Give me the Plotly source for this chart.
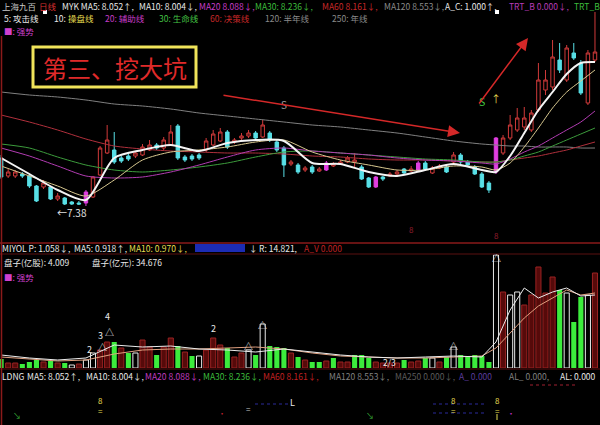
import plotly.graph_objects as go

W, H = 600, 425

# ---------------- data ----------------
days = list(range(85))
open_ = [8.34, 7.98, 7.98, 8.02, 7.98, 7.78, 7.76, 7.76, 7.52, 7.54,
         7.46, 7.44, 7.44, 7.56, 8.00, 8.44, 8.50, 8.34, 8.38, 8.38,
         8.40, 8.50, 8.60, 8.54, 8.60, 8.98, 8.36, 8.38, 8.40, 8.50,
         8.60, 8.68, 8.86, 8.66, 8.74, 8.78, 8.84, 8.76, 8.84, 8.66,
         8.54, 8.22, 8.20, 8.10, 8.16, 8.08, 8.10, 8.18, 8.22, 8.26,
         8.26, 8.16, 7.94, 7.76, 7.96, 7.98, 8.02, 8.12, 8.08, 8.10,
         8.24, 8.04, 8.14, 8.16, 8.26, 8.40, 8.26, 8.16, 8.02, 7.84,
         8.06, 8.44, 8.74, 8.90, 8.96, 8.90, 9.30, 9.70, 9.76, 10.30,
         9.90, 10.44, 10.24, 9.44, 10.30]
high = [8.40, 8.12, 8.10, 8.06, 8.02, 7.80, 7.90, 7.78, 7.64, 7.56,
        7.48, 7.48, 7.70, 7.98, 8.58, 9.00, 8.86, 8.38, 8.42, 8.48,
        8.62, 8.70, 8.64, 8.76, 9.00, 9.02, 8.40, 8.42, 8.44, 8.74,
        8.90, 8.94, 8.90, 8.74, 8.84, 8.90, 8.88, 9.10, 8.88, 8.70,
        8.58, 8.30, 8.24, 8.18, 8.20, 8.16, 8.28, 8.26, 8.30, 8.38,
        8.44, 8.20, 7.96, 7.98, 7.98, 8.06, 8.10, 8.14, 8.18, 8.28,
        8.28, 8.18, 8.22, 8.20, 8.46, 8.44, 8.30, 8.20, 8.06, 7.88,
        8.76, 8.80, 9.20, 9.34, 9.36, 9.30, 10.24, 10.10, 10.70, 10.64,
        10.60, 10.64, 10.30, 10.50, 11.26]
low = [7.92, 7.94, 7.94, 7.94, 7.74, 7.46, 7.72, 7.50, 7.48, 7.40,
       7.40, 7.40, 7.38, 7.54, 7.98, 8.42, 8.22, 8.24, 8.28, 8.34,
       8.38, 8.48, 8.50, 8.50, 8.58, 8.30, 8.26, 8.28, 8.30, 8.46,
       8.58, 8.66, 8.52, 8.62, 8.70, 8.74, 8.70, 8.74, 8.66, 8.46,
       7.96, 8.18, 8.02, 8.06, 8.02, 8.06, 8.08, 8.16, 8.20, 8.24,
       8.16, 7.90, 7.74, 7.74, 7.88, 7.96, 8.00, 8.00, 8.06, 8.08,
       8.10, 8.02, 8.12, 8.04, 8.22, 8.22, 8.18, 8.00, 7.74, 7.64,
       8.02, 8.40, 8.70, 8.86, 8.90, 8.86, 9.26, 9.60, 9.70, 10.04,
       9.86, 10.30, 9.60, 9.40, 10.26]
close = [7.96, 8.06, 8.06, 7.98, 7.78, 7.48, 7.84, 7.52, 7.58, 7.42,
         7.42, 7.42, 7.66, 7.96, 8.54, 8.70, 8.26, 8.28, 8.32, 8.44,
         8.56, 8.60, 8.54, 8.70, 8.86, 8.34, 8.30, 8.32, 8.34, 8.68,
         8.82, 8.86, 8.56, 8.70, 8.78, 8.84, 8.74, 9.00, 8.70, 8.50,
         8.20, 8.26, 8.06, 8.14, 8.06, 8.12, 8.24, 8.22, 8.26, 8.34,
         8.30, 7.92, 7.76, 7.96, 7.92, 8.02, 8.06, 8.04, 8.12, 8.24,
         8.12, 8.14, 8.18, 8.06, 8.40, 8.26, 8.20, 8.02, 7.76, 7.70,
         8.74, 8.74, 9.00, 9.14, 9.14, 9.24, 9.90, 9.90, 10.36, 10.10,
         10.54, 10.34, 9.64, 10.44, 10.46]
signal_days = [12, 46, 53, 59, 70]
low_label_day = 12

ma_days = [0, 4, 8, 12, 16, 20, 24, 28, 32, 36, 40, 44, 48, 52, 56, 60,
           64, 68, 70, 72, 74, 76, 78, 80, 82, 84]
ma5 = [8.34, 8.02, 7.70, 7.50, 8.34, 8.50, 8.60, 8.48, 8.64, 8.70, 8.68, 8.24, 8.22,
       8.06, 7.98, 8.10, 8.22, 8.10, 8.06, 8.38, 8.84, 9.30, 9.66, 10.02, 10.24, 10.26]
ma10 = [8.18, 7.98, 7.78, 7.58, 7.90, 8.30, 8.46, 8.50, 8.56, 8.66, 8.70, 8.46, 8.30,
        8.20, 8.10, 8.10, 8.18, 8.16, 8.10, 8.24, 8.56, 8.94, 9.34, 9.66, 9.88, 10.10]
ma20 = [8.54, 8.38, 8.18, 7.98, 7.94, 7.96, 8.06, 8.20, 8.36, 8.50, 8.54, 8.48, 8.44,
        8.40, 8.34, 8.30, 8.28, 8.24, 8.22, 8.32, 8.46, 8.58, 8.74, 8.90, 9.06, 9.28]
ma30 = [8.62, 8.54, 8.36, 8.20, 8.10, 8.06, 8.10, 8.16, 8.24, 8.36, 8.46, 8.48, 8.44,
        8.40, 8.36, 8.32, 8.30, 8.26, 8.26, 8.30, 8.38, 8.46, 8.58, 8.70, 8.82, 8.94]
ma60 = [9.20, 9.06, 8.90, 8.72, 8.58, 8.52, 8.48, 8.46, 8.44, 8.44, 8.42, 8.38, 8.36,
        8.32, 8.30, 8.30, 8.28, 8.26, 8.26, 8.30, 8.34, 8.38, 8.44, 8.50, 8.58, 8.66]
ma120 = [9.66, 9.60, 9.56, 9.50, 9.42, 9.38, 9.32, 9.24, 9.18, 9.12, 9.06, 9.00, 8.96,
         8.90, 8.84, 8.76, 8.68, 8.62, 8.60, 8.58, 8.58, 8.56, 8.56, 8.56, 8.54, 8.54]

volume = [0.81, 0.45, 0.45, 0.36, 0.54, 0.72, 0.54, 0.63, 0.45, 0.45,
          0.27, 0.36, 0.72, 1.35, 1.62, 2.34, 2.34, 1.80, 1.35, 1.35,
          2.52, 1.89, 1.17, 1.89, 2.70, 1.98, 1.44, 1.08, 1.08, 1.62,
          2.70, 2.07, 1.80, 0.99, 1.35, 1.62, 1.17, 3.96, 1.98, 1.89,
          1.80, 1.35, 0.99, 0.72, 0.54, 0.54, 0.63, 0.90, 0.54, 0.54,
          1.17, 1.17, 0.90, 0.54, 0.45, 0.45, 0.45, 0.72, 0.54, 0.63,
          0.90, 0.90, 0.54, 0.99, 1.89, 1.17, 0.99, 1.17, 1.08, 0.54,
          10.17, 6.84, 6.57, 6.84, 5.67, 6.57, 9.09, 6.75, 8.19, 7.02,
          6.75, 4.14, 6.39, 6.57, 8.55]
# g = down volume (solid green), w = hollow white, r = up volume (dark red)
vol_kind = list("grrgggrgrg" "wrwwrrgrgw" "rrgrrgrgwr" "rrgrrwgwgg"
                "grgrggrgrr" "gggrrrrgrr" "gwrgwggggg" "wrwwrrrrrg" "wggwr")
vol_ma5 = [1.17, 0.90, 0.72, 0.90, 2.07, 1.89, 1.98, 1.71, 1.62, 1.44, 1.71, 1.44, 1.17,
           0.99, 0.90, 0.99, 1.08, 0.99, 2.34, 5.22, 7.20, 6.30, 6.84, 7.20, 6.48, 6.57]
vol_ma10 = [0.99, 0.81, 0.63, 0.72, 1.26, 1.62, 1.71, 1.71, 1.80, 1.89, 1.71, 1.35, 1.08,
            0.99, 0.90, 0.90, 0.99, 1.08, 1.80, 3.15, 4.50, 5.58, 6.30, 7.02, 6.57, 6.75]
# (day, label, x-shift px, y-shift px) flags over the volume bars
vol_flags = [(14, "△", 2, 3), (14, "2", -11, 1), (15, "△", 2, 10), (15, "3", -7, 7),
             (15, "4", 0, 26), (30, "2", 0, 10), (35, "△", 0, 4), (37, "△", 0, -1),
             (55, "2/3", 0, 1), (64, "△", 0, 1), (70, "△", 0, -3)]

# ---------------- helpers ----------------
def py(y):
    return 1 - y / H

XR = [-0.156, 84.71]
fig = go.Figure()

normal = [d for d in days if d not in signal_days]
def pick(arr, idx):
    return [arr[i] for i in idx]

fig.add_trace(go.Candlestick(
    x=normal, open=pick(open_, normal), high=pick(high, normal),
    low=pick(low, normal), close=pick(close, normal),
    increasing=dict(line=dict(color="#d03a3a", width=1), fillcolor="rgba(0,0,0,0)"),
    decreasing=dict(line=dict(color="#58dfe6", width=1), fillcolor="#58dfe6"),
    whiskerwidth=0, hoverinfo="skip", xaxis="x", yaxis="y"))
fig.add_trace(go.Candlestick(
    x=signal_days, open=pick(open_, signal_days), high=pick(high, signal_days),
    low=pick(low, signal_days), close=pick(close, signal_days),
    increasing=dict(line=dict(color="#e03ee0", width=1), fillcolor="#e03ee0"),
    decreasing=dict(line=dict(color="#e03ee0", width=1), fillcolor="#e03ee0"),
    whiskerwidth=0, hoverinfo="skip", xaxis="x", yaxis="y"))

ma_styles = [(ma120, "#808080", 1), (ma60, "#b0303c", 1), (ma30, "#3c9c3c", 1),
             (ma20, "#b23cb2", 1), (ma10, "#d8c890", 1), (ma5, "#f4f4f4", 2)]
for vals, col, wd in ma_styles:
    fig.add_trace(go.Scatter(x=ma_days, y=vals, mode="lines", hoverinfo="skip",
                             line=dict(color=col, width=wd, shape="spline", smoothing=0.7),
                             xaxis="x", yaxis="y"))

# volume bars
kinds = {"g": dict(marker=dict(color="#3cec3c", line=dict(width=0))),
         "w": dict(marker=dict(color="rgba(0,0,0,0)", line=dict(color="#e8e8e8", width=1))),
         "r": dict(marker=dict(color="#560a0a", line=dict(color="#9a2222", width=1)))}
for k, style in kinds.items():
    idx = [d for d in days if vol_kind[d] == k]
    fig.add_trace(go.Bar(x=idx, y=pick(volume, idx), width=0.72, hoverinfo="skip",
                         xaxis="x2", yaxis="y2", **style))
fig.add_trace(go.Scatter(x=ma_days, y=vol_ma10, mode="lines", hoverinfo="skip",
                         line=dict(color="#e0a080", width=1), xaxis="x2", yaxis="y2"))
fig.add_trace(go.Scatter(x=ma_days, y=vol_ma5, mode="lines", hoverinfo="skip",
                         line=dict(color="#ececec", width=1), xaxis="x2", yaxis="y2"))

ann = []
FONT = "Noto Sans CJK SC"

def ptext(x, y, text, color, size=8.5, xanchor="left", family=FONT):
    ann.append(dict(x=x / W, y=py(y), xref="paper", yref="paper", text=text,
                    showarrow=False, xanchor=xanchor, yanchor="middle",
                    font=dict(family=family, size=size, color=color)))

# header rows
row1 = [(0, "上海九百", "#c8c8c8"), (37, "日线", "#d83030"),
        (60, "MYK MA5: 8.052↑,", "#e8e8e8"), (137, "MA10: 8.004↓,", "#e8e8e8"),
        (197, "MA20 8.088↓,", "#c83cc8"), (253, "MA30: 8.236↓,", "#3cbc3c"),
        (320, "MA60 8.161↓,", "#c82828"), (382, "MA120 8.553↓,", "#8a8a8a"),
        (443, "A_C: 1.000↑,", "#e8e8e8"), (507, "TRT_B 0.000↓,", "#b83cb8"),
        (572, "TRT_B", "#3cbc3c")]
row2 = [(2, "5: 攻击线", "#e8e8e8"), (52, "10:", "#e8e8e8"), (66, "操盘线", "#e6dc50"),
        (103, "20: 辅助线", "#c83cc8"), (157, "30: 生命线", "#44c444"),
        (208, "60: 决策线", "#c82828"), (263, "120: 半年线", "#8a8a8a"),
        (330, "250: 年线", "#8a8a8a")]
for x, t, c in row1:
    ptext(x, 6, t, c)
for x, t, c in row2:
    ptext(x, 18, t, c)
ptext(2, 31.5, "■: 强势", "#d040d0")

row_v1 = [(0, "MIYOL P: 1.058↓,", "#e8e8e8"), (72, "MA5: 0.918↑,", "#e8e8e8"),
          (127, "MA10: 0.970↓,", "#e6dc50"), (247, "↓", "#e8e8e8"),
          (257, "R: 14.821,", "#e8e8e8"), (302, "A_V 0.000", "#c02020")]
for x, t, c in row_v1:
    ptext(x, 248, t, c)
ptext(2, 262, "盘子(亿股): 4.009", "#e8e8e8")
ptext(90, 262, "盘子(亿元): 34.676", "#e8e8e8")
ptext(2, 277, "■: 强势", "#d040d0")

row_l = [(0, "LDNG", "#e8e8e8"), (25, "MA5: 8.052↑,", "#e8e8e8"),
         (84, "MA10: 8.004↓,", "#e8e8e8"), (143, "MA20 8.088↓,", "#c03cc0"),
         (201, "MA30: 8.236↓,", "#3cbc3c"), (261, "MA60 8.161↓,", "#c02020"),
         (327, "MA120 8.553↓,", "#808080"), (393, "MA250 0.000↓,", "#5a5a5a"),
         (457, "A_ 0.000", "#5a3c9c"), (507, "AL_ 0.000,", "#808080"),
         (558, "AL: 0.000", "#e8e8e8")]
for x, t, c in row_l:
    ptext(x, 376, t, c)

# bottom indicator panel marks
for x in (100, 453, 497):
    ptext(x, 400, "8", "#e6dc50", 8, "center")
    ptext(x, 410, "=", "#e6dc50", 8, "center")
ptext(292, 402, "L", "#e8e8e8", 9, "center")
ptext(248, 408, "=", "#c8c8c8", 8, "center")
ptext(17, 415, "↘", "#3cbc3c", 8, "center")
ptext(370, 415, "↘", "#3cbc3c", 8, "center")
ptext(222, 413, "•", "#c02030", 8, "center")
ptext(511, 413, "•", "#c030c0", 8, "center")

# title box text
ann.append(dict(x=(33 + 196) / 2 / W, y=py(67), xref="paper", yref="paper",
                text="第三、挖大坑", showarrow=False, xanchor="center", yanchor="middle",
                font=dict(family=FONT, size=24, color="#e02a2a")))

# price panel labels
ann.append(dict(x=low_label_day, y=low[low_label_day], xref="x", yref="y", text="←7.38",
                showarrow=False, xanchor="right", yanchor="top", xshift=3, yshift=3,
                font=dict(family=FONT, size=10, color="#e0e0e0")))
ann.append(dict(x=40, y=ma120[10], xref="x", yref="y", text="S", showarrow=False,
                yshift=18, font=dict(family=FONT, size=10, color="#a0a0a0")))
ann.append(dict(x=68, y=close[70], xref="x", yref="y", text="S", showarrow=False,
                yshift=37, font=dict(family=FONT, size=10.5, color="#44cc44")))
ann.append(dict(x=70, y=close[70], xref="x", yref="y", text="↑", showarrow=False,
                yshift=40, font=dict(family=FONT, size=10, color="#e6dc50")))
for d in (58, 70):
    ann.append(dict(x=d, y=low[d], xref="x", yref="y", text="8", showarrow=False,
                    yanchor="top", yshift=-50 if d == 58 else -54,
                    font=dict(family=FONT, size=8, color="#901c2c")))

# red trend arrows
ann.append(dict(x=460 / W, y=py(133), xref="paper", yref="paper", text="", showarrow=True,
                ax=-238, ay=-38, arrowcolor="#d42828", arrowwidth=1.5, arrowhead=2,
                arrowsize=1.6))
ann.append(dict(x=528 / W, y=py(38), xref="paper", yref="paper", text="", showarrow=True,
                ax=-50, ay=67, arrowcolor="#d42828", arrowwidth=1.5, arrowhead=2,
                arrowsize=1.6))

# volume flags
for d, t, dx, dy in vol_flags:
    ann.append(dict(x=d, y=volume[d], xref="x2", yref="y2", text=t, showarrow=False,
                    yanchor="middle", xshift=dx, yshift=dy,
                    font=dict(family=FONT, size=9 if t != "2/3" else 8.5, color="#e8e8e8")))

shapes = [
    dict(type="rect", xref="paper", yref="paper", x0=33 / W, x1=196 / W, y0=py(87), y1=py(47),
         line=dict(color="#f0e45a", width=3), fillcolor="#000000", layer="below"),
    dict(type="line", xref="paper", yref="paper", x0=0, x1=1, y0=py(243), y1=py(243),
         line=dict(color="#8a1a1a", width=1.5)),
    dict(type="line", xref="paper", yref="paper", x0=0, x1=1, y0=py(254), y1=py(254),
         line=dict(color="#5a1010", width=1)),
    dict(type="line", xref="paper", yref="paper", x0=0, x1=1, y0=py(369), y1=py(369),
         line=dict(color="#5a1010", width=1)),
    dict(type="line", xref="paper", yref="paper", x0=1.5 / W, x1=1.5 / W, y0=py(425), y1=py(36),
         line=dict(color="#8a1a1a", width=1.5)),
    dict(type="rect", xref="paper", yref="paper", x0=195 / W, x1=245 / W, y0=py(252), y1=py(244),
         line=dict(width=0), fillcolor="#1c2cb4"),
    dict(type="line", xref="paper", yref="paper", x0=530 / W, x1=575 / W, y0=py(385), y1=py(385),
         line=dict(color="#a02030", width=1, dash="dot")),
    dict(type="line", xref="paper", yref="paper", x0=433 / W, x1=487 / W, y0=py(404), y1=py(404),
         line=dict(color="#2a2a9a", width=1, dash="dot")),
    dict(type="line", xref="paper", yref="paper", x0=433 / W, x1=487 / W, y0=py(413), y1=py(413),
         line=dict(color="#2a2a9a", width=1, dash="dot")),
    dict(type="line", xref="paper", yref="paper", x0=255 / W, x1=288 / W, y0=py(404), y1=py(404),
         line=dict(color="#2a2a9a", width=1, dash="dot")),
    dict(type="line", xref="paper", yref="paper", x0=497 / W, x1=497 / W, y0=py(420), y1=py(414),
         line=dict(color="#e6dc50", width=1)),
    dict(type="rect", xref="paper", yref="paper", x0=43 / W, x1=47 / W, y0=py(14), y1=py(10),
         line=dict(width=0), fillcolor="#ffffff"),
    dict(type="rect", xref="paper", yref="paper", x0=495 / W, x1=499 / W, y0=py(14), y1=py(10),
         line=dict(width=0), fillcolor="#ffffff"),
]

fig.update_layout(
    width=W, height=H, margin=dict(l=0, r=0, t=0, b=0),
    paper_bgcolor="#000000", plot_bgcolor="#000000", showlegend=False,
    barmode="overlay", boxgap=0.3,
    xaxis=dict(domain=[0, 1], range=XR, visible=False, anchor="y",
               rangeslider=dict(visible=False)),
    yaxis=dict(domain=[py(232), py(10)], range=[6.86, 11.30], visible=False, anchor="x"),
    xaxis2=dict(domain=[0, 1], range=XR, visible=False, anchor="y2"),
    yaxis2=dict(domain=[py(368), py(254)], range=[0, 10.26], visible=False, anchor="x2"),
    annotations=ann, shapes=shapes,
)

fig.write_html("out.html", config={"displayModeBar": False},
               post_script="document.body.style.margin='0';document.body.style.background='#000';")
